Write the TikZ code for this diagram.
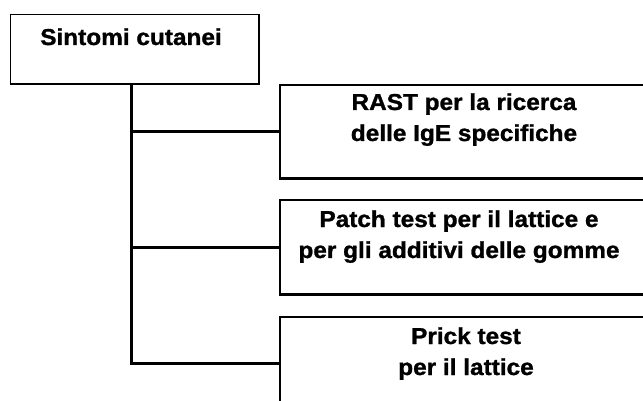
\documentclass[tikz,border=0pt]{standalone}
\usepackage{fontspec}
\setmainfont{Liberation Sans}[FakeStretch=1.06,BoldFeatures={FakeBold=1.2}]
\begin{document}
\begin{tikzpicture}[x=1pt,y=-1pt,
  box/.style={draw=black,line width=1.5pt,minimum width=370pt,inner sep=0pt},
  topbox/.style={draw=black,line width=1pt,inner sep=0pt,minimum width=248pt,minimum height=69pt},
  lbl/.style={font=\fontsize{23}{31}\selectfont\bfseries,align=center,inner sep=0pt,anchor=base},
  conn/.style={line width=3pt}]
\useasboundingbox (0,0) rectangle (643,401);
\fill[white] (0,0) rectangle (643,401);
% top box
\node[topbox] (root) at (134,49.5) {};
\draw[line width=2pt] (root.south west) -- (root.south east) -- (root.north east);
\node[lbl] (rootlbl) at (131,45) {Sintomi cutanei};
% right boxes
\node[box,minimum height=93pt] (b1) at (465,131.5) {};
\node[box,minimum height=94pt] (b2) at (465,247) {};
\node[box,minimum height=92pt] (b3) at (465,363) {};
\foreach \b in {b1,b2,b3}{\draw[line width=3pt] (\b.south west) -- (\b.south east);}
\node[lbl] (l1) at (464,141) {RAST per la ricerca\\delle IgE specifiche};
\node[lbl] (l2) at (459,258) {Patch test per il lattice e\\per gli additivi delle gomme};
\node[lbl] (l3) at (466,375) {Prick test\\per il lattice};
% connectors
\coordinate (t) at (131.5,84);
\draw[conn] (t) |- (b3.west);
\draw[conn] (t |- b1.west) -- (b1.west);
\draw[conn] (t |- b2.west) -- (b2.west);
\end{tikzpicture}
\end{document}
